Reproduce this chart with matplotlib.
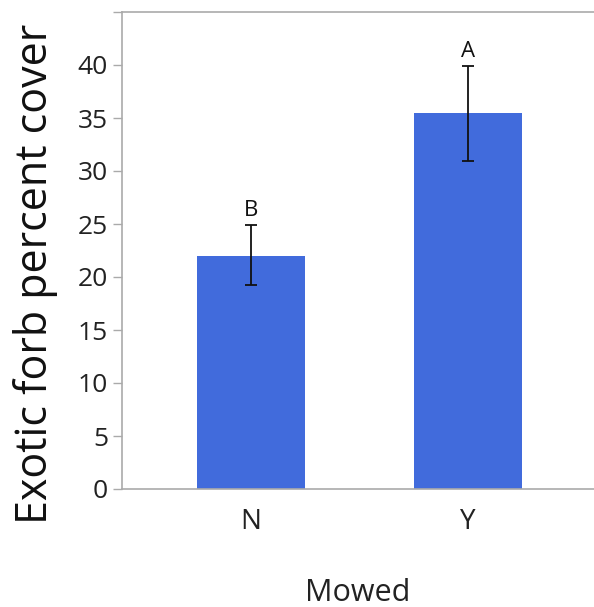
import matplotlib
matplotlib.use("Agg")
import matplotlib.pyplot as plt
import numpy as np

categories = ["N", "Y"]
means = [22.0, 35.5]
err_low = [19.25, 30.9]
err_high = [24.9, 39.9]
letters = ["B", "A"]
yticks = [0, 5, 10, 15, 20, 25, 30, 35, 40, 45]
ytick_labels = ["0", "5", "10", "15", "20", "25", "30", "35", "40", ""]

plt.rcParams['font.family'] = ['Open Sans', 'DejaVu Sans']

fig = plt.figure(figsize=(5.94, 6.07), dpi=100)
ax = fig.add_axes([122/594, 1-489/607, 1-122/594, (489-12)/607])

x = np.arange(len(categories))
means_a = np.array(means)
yerr = np.array([means_a - np.array(err_low), np.array(err_high) - means_a])
ax.bar(x, means, width=0.5, color='#416BDC', zorder=2)
ax.errorbar(x, means, yerr=yerr, fmt='none', ecolor='#111111', elinewidth=1.3,
            capsize=4.5, capthick=1.3, zorder=3)
for xi, top, lab in zip(x, err_high, letters):
    ax.text(xi, top + 0.4, lab, ha='center', va='bottom', fontsize=16, color='#111111')

ax.set_xlim(-0.595, 1.58)
ax.set_ylim(0, 45)
ax.set_yticks(yticks)
ax.set_yticklabels(ytick_labels)
ax.set_xticks(x)
ax.set_xticklabels(categories)

for s in ['left', 'bottom', 'top']:
    ax.spines[s].set_color('#aaaaaa')
    ax.spines[s].set_linewidth(1.2)
ax.spines['right'].set_visible(False)

ax.tick_params(axis='y', length=6.5, width=1.0, color='#aaaaaa', pad=3.5,
               labelsize=19, labelcolor='#222222')
ax.tick_params(axis='x', length=0, pad=14, labelsize=20, labelcolor='#222222')

ax.set_ylabel("Exotic forb percent cover", fontsize=31, color='#111111')
ax.yaxis.set_label_coords(-0.136, 0.45)
ax.set_xlabel("Mowed", fontsize=22, color='#222222', labelpad=30)

fig.savefig("out.png", dpi=100)
